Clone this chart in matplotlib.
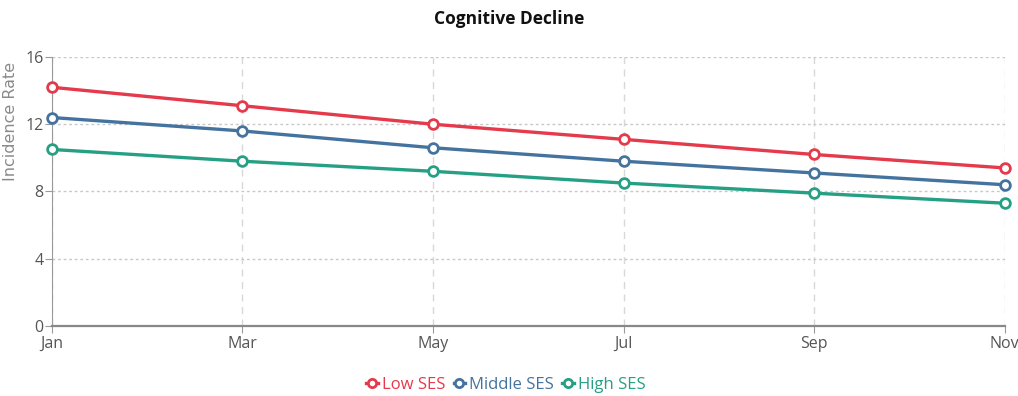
import matplotlib
matplotlib.use('Agg')
import matplotlib.pyplot as plt

plt.rcParams['font.family'] = ['Open Sans', 'DejaVu Sans']

months = ['Jan', 'Mar', 'May', 'Jul', 'Sep', 'Nov']
low_ses = [14.2, 13.1, 12.0, 11.1, 10.2, 9.4]
middle_ses = [12.4, 11.6, 10.6, 9.8, 9.1, 8.4]
high_ses = [10.5, 9.8, 9.2, 8.5, 7.9, 7.3]
y_ticks = [0, 4, 8, 12, 16]

series = [
    ('Low SES', low_ses, '#e43a4b'),
    ('Middle SES', middle_ses, '#45739f'),
    ('High SES', high_ses, '#26a084'),
]

fig = plt.figure(figsize=(10.18, 3.96), dpi=100)
ax = fig.add_axes([0.051, 0.177, 0.936, 0.679])

x = list(range(len(months)))
for name, vals, col in series:
    ax.plot(x, vals, color=col, lw=2.4, marker='o', ms=7,
            mfc='white', mec=col, mew=2, label=name, zorder=3, clip_on=False)

ax.set_xlim(0, len(months) - 1)
ax.set_ylim(0, 16)
ax.set_xticks(x)
ax.set_xticklabels(months)
ax.set_yticks(y_ticks)

ax.yaxis.grid(True, color='#c8c8c8', ls=(0, (2, 2)), lw=1)
ax.xaxis.grid(True, color='#d8d8d8', ls=(0, (5, 4)), lw=1)
ax.set_axisbelow(True)

for s in ['top', 'right']:
    ax.spines[s].set_visible(False)
ax.spines['left'].set_color('#9a9a9a')
ax.spines['bottom'].set_color('#888888')
ax.spines['bottom'].set_linewidth(1.6)

ax.tick_params(axis='both', colors='#9a9a9a', labelcolor='#555555',
               labelsize=11.5, length=5)
ax.tick_params(axis='x', pad=2)
ax.tick_params(axis='y', pad=1)

# wider face for the axis title
ax.set_ylabel('Incidence Rate', color='#8a8a8a', fontsize=11.5,
              fontfamily='DejaVu Sans')
ax.yaxis.set_label_coords(-0.036, 0.76)

fig.suptitle('Cognitive Decline', x=0.5, y=0.975, fontsize=12.5,
             fontweight='bold', color='#111111')

leg = fig.legend(loc='center', bbox_to_anchor=(0.497, 0.028), ncol=3,
                 frameon=False, fontsize=12, handlelength=0.7,
                 handletextpad=0.25, columnspacing=0.5,
                 markerscale=0.85)
for txt, (_, _, col) in zip(leg.get_texts(), series):
    txt.set_color(col)

fig.savefig('out.png', dpi=100)
